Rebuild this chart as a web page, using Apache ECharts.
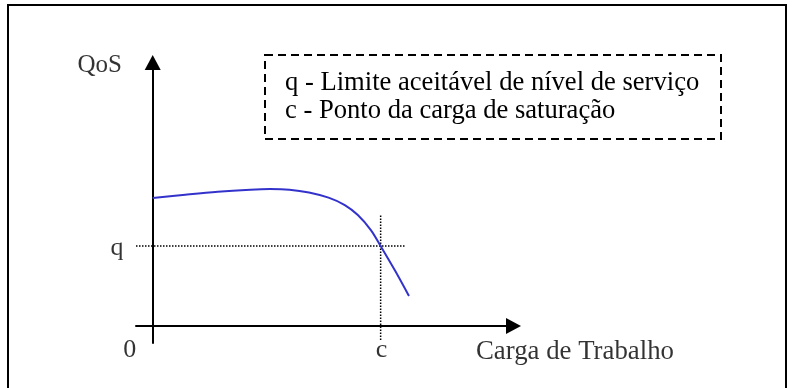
<!DOCTYPE html>
<html>
<head>
<meta charset="utf-8">
<script src="https://cdn.jsdelivr.net/npm/echarts@6/dist/echarts.min.js"></script>
<style>
  html, body { margin: 0; padding: 0; background: #ffffff; }
  #chart { width: 796px; height: 388px; }
</style>
</head>
<body>
<div id="chart"></div>
<script>
// Curva de QoS em função da carga de trabalho
const cargaX = [0, 1.0, 2.0, 3.0, 3.6, 4.2, 4.8, 5.4, 5.9, 6.3, 6.7, 7.0, 7.45, 7.87];
const qosY   = [6.4, 6.57, 6.72, 6.82, 6.85, 6.82, 6.68, 6.42, 6.05, 5.55, 4.8, 4.0, 2.75, 1.5];

// Limite de serviço (q) e carga de saturação (c)
const q = 4;
const c = 7;
const limiteX = [-0.513, 7.77];     // extensão da linha pontilhada horizontal
const saturacaoY = [-0.7, 5.6];     // extensão da linha pontilhada vertical

// Limites dos eixos
const eixoX = [-0.513, 11.08];
const eixoY = [-0.85, 13.18];

// Textos
const rotuloOrigem = '0';
const rotuloQ = 'q';
const rotuloC = 'c';
const nomeEixoY = 'QoS';
const nomeEixoX = 'Carga de Trabalho';
const legendaLinhas = [
  'q - Limite aceitável de nível de serviço',
  'c - Ponto da carga de saturação'
];

const fonte = 'Liberation Serif, Times New Roman, serif';
const tam = 26;

const chart = echarts.init(document.getElementById('chart'), null, { renderer: 'canvas' });

const txt = (extra) => Object.assign({
  show: true, position: 'inside', color: '#000', fontFamily: fonte, fontSize: tam,
  align: 'center', verticalAlign: 'middle'
}, extra);

chart.setOption({
  animation: false,
  backgroundColor: '#ffffff',
  grid: { left: 136, right: 282.5, top: 62.5, bottom: 45, containLabel: false },
  xAxis: {
    type: 'value', min: eixoX[0], max: eixoX[1],
    axisLine: { show: true, onZero: true, symbol: ['none', 'triangle'], symbolSize: [16, 15],
      lineStyle: { color: '#000', width: 2 } },
    axisTick: { show: false }, axisLabel: { show: false }, splitLine: { show: false }
  },
  yAxis: {
    type: 'value', min: eixoY[0], max: eixoY[1],
    axisLine: { show: true, onZero: true, symbol: ['none', 'triangle'], symbolSize: [16, 15],
      lineStyle: { color: '#000', width: 2 } },
    axisTick: { show: false }, axisLabel: { show: false }, splitLine: { show: false }
  },
  series: [
    {
      name: 'QoS', type: 'line', smooth: 0.35, showSymbol: false,
      data: cargaX.map((x, i) => [x, qosY[i]]),
      lineStyle: { color: '#3333cc', width: 2 }, z: 5
    },
    {
      name: 'limite', type: 'line', showSymbol: false,
      data: [[limiteX[0], q], [limiteX[1], q]],
      lineStyle: { color: '#000', width: 1.5, type: [1.5, 1.5] }, z: 3
    },
    {
      name: 'saturacao', type: 'line', showSymbol: false,
      data: [[c, saturacaoY[0]], [c, saturacaoY[1]]],
      lineStyle: { color: '#000', width: 1.5, type: [1.5, 1.5] }, z: 3
    },
    {
      name: 'rotulos', type: 'scatter', symbolSize: 0, silent: true, z: 6,
      data: [
        { value: [0, 0], label: txt({ formatter: rotuloOrigem, offset: [-23, 24] }) },
        { value: [c, 0], label: txt({ formatter: rotuloC, offset: [1, 24] }) },
        { value: [limiteX[0], q], label: txt({ formatter: rotuloQ, offset: [-19, 2] }) },
        { value: [0, eixoY[1]], label: txt({ formatter: nomeEixoY, fontSize: 25, offset: [-53, 2.5] }) },
        { value: [eixoX[1], 0], label: txt({ formatter: nomeEixoX, fontSize: 26.8, align: 'left', offset: [-37.5, 26] }) }
      ]
    }
  ],
  graphic: [
    { type: 'rect', shape: { x: 8, y: 5, width: 778, height: 420 },
      style: { fill: 'none', stroke: '#000', lineWidth: 2 }, silent: true },
    { type: 'rect', shape: { x: 265, y: 55, width: 456, height: 84 },
      style: { fill: '#fff', stroke: '#000', lineWidth: 2, lineDash: [8, 5] }, silent: true },
    { type: 'text', x: 285, y: 83,
      style: { text: legendaLinhas[0], font: '26.6px ' + fonte, fill: '#000', verticalAlign: 'middle' } },
    { type: 'text', x: 285, y: 111,
      style: { text: legendaLinhas[1], font: '26.6px ' + fonte, fill: '#000', verticalAlign: 'middle' } }
  ]
});
</script>
</body>
</html>
